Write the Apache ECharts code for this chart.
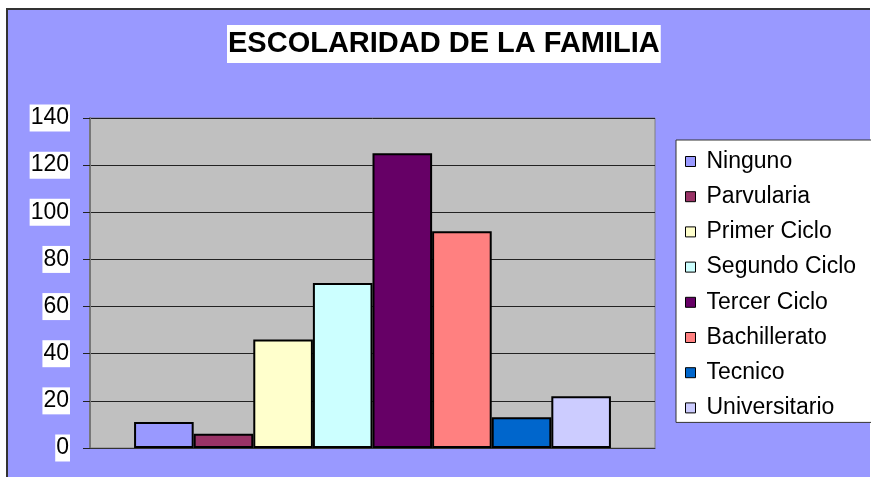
<!DOCTYPE html>
<html>
<head>
<meta charset="utf-8">
<script src="https://cdn.jsdelivr.net/npm/echarts@6/dist/echarts.min.js"></script>
<style>
	html, body { margin: 0; padding: 0; background: #fff; overflow: hidden; }
	#container { width: 871px; height: 477px; }
</style>
</head>
<body>
<div id="container"></div>
<script>
var titleText = 'ESCOLARIDAD DE LA FAMILIA';
var categories = [''];
var seriesNames = ['Ninguno', 'Parvularia', 'Primer Ciclo', 'Segundo Ciclo', 'Tercer Ciclo', 'Bachillerato', 'Tecnico', 'Universitario'];
var seriesValues = [11, 6, 46, 70, 125, 92, 13, 22];
var seriesColors = ['#9999FF', '#993366', '#FFFFCC', '#CCFFFF', '#660066', '#FF8080', '#0066CC', '#CCCCFF'];
var yTicks = { min: 0, max: 140, interval: 20 };

function loadChart() {
	var dom = document.getElementById('container');
	var myChart = echarts.init(dom, null, { renderer: 'canvas' });
	var font = 'Liberation Sans, Arial, sans-serif';

	var series = seriesNames.map(function (name, i) {
		return {
			name: name,
			type: 'bar',
			barGap: '0%',
			barCategoryGap: '15.6%',
			itemStyle: {
				color: seriesColors[i],
				borderColor: '#000',
				borderWidth: 2
			},
			data: [seriesValues[i]]
		};
	});

	var option = {
		backgroundColor: '#fff',
		animation: false,
		// fondo morado y borde oscuro arriba / izquierda
		graphic: [{
			type: 'rect',
			z: -10,
			silent: true,
			shape: { x: 6, y: 8, width: 864, height: 480 },
			style: { fill: '#9999FF' }
		}, {
			type: 'line',
			z: -9,
			silent: true,
			shape: { x1: 6, y1: 9, x2: 870, y2: 9 },
			style: { stroke: '#333', lineWidth: 2 }
		}, {
			type: 'line',
			z: -9,
			silent: true,
			shape: { x1: 7, y1: 8, x2: 7, y2: 477 },
			style: { stroke: '#333', lineWidth: 2 }
		}],
		title: {
			text: titleText,
			left: 227,
			top: 25,
			padding: [4, 1, 4, 1],
			backgroundColor: '#fff',
			textStyle: {
				fontFamily: font,
				fontSize: 29,
				fontWeight: 'bold',
				color: '#000',
				lineHeight: 30
			}
		},
		legend: {
			orient: 'vertical',
			left: 676,
			top: 140,
			padding: [10, 20, 3, 9],
			backgroundColor: '#fff',
			borderColor: '#333',
			borderWidth: 1,
			borderRadius: 0,
			itemWidth: 10,
			itemHeight: 10,
			itemGap: 12.2,
			icon: 'rect',
			itemStyle: { borderColor: '#000', borderWidth: 1 },
			textStyle: {
				fontFamily: font,
				fontSize: 23,
				lineHeight: 23,
				color: '#000',
				padding: [0, 0, 0, 6]
			},
			data: seriesNames
		},
		grid: {
			left: 90,
			right: 216,
			top: 118,
			bottom: 29,
			show: true,
			backgroundColor: '#C0C0C0',
			borderColor: '#808080',
			borderWidth: 1
		},
		xAxis: {
			type: 'category',
			data: categories,
			axisLine: { show: true, lineStyle: { color: '#333', width: 1 } },
			axisTick: { show: false },
			axisLabel: { show: false },
			splitLine: { show: false }
		},
		yAxis: {
			type: 'value',
			min: yTicks.min,
			max: yTicks.max,
			interval: yTicks.interval,
			axisLine: { show: true, lineStyle: { color: '#777', width: 2 } },
			axisTick: { show: true, length: 7, lineStyle: { color: '#222' } },
			axisLabel: {
				margin: 20,
				fontFamily: font,
				fontSize: 23,
				lineHeight: 23,
				color: '#000',
				backgroundColor: '#fff',
				padding: [2, 1, 2, 1]
			},
			splitLine: { show: true, lineStyle: { color: '#222', width: 1 } }
		},
		series: series
	};

	myChart.setOption(option, true);
}

loadChart();
</script>
</body>
</html>
